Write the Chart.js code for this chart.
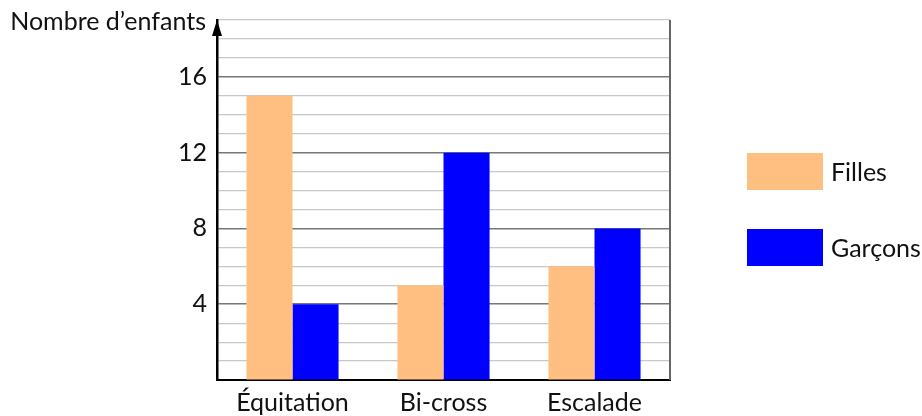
<!DOCTYPE html>
<html lang="fr">
<head>
  <meta charset="UTF-8" />
  <title>Nombre d'enfants par activité</title>
  <script src="https://cdn.jsdelivr.net/npm/chart.js"></script>
  <style>
    body { margin: 0; background: #fff; font-family: 'Lato', 'DejaVu Sans', sans-serif; }
    .wrap { position: relative; width: 922px; height: 416px; }
    canvas { position: absolute; left: 0; top: 0; }
    .legende { position: absolute; left: 747px; font-size: 25px; color: #111; }
    .legende span.box { position: absolute; left: 0; width: 76px; height: 37px; }
    .legende span.txt { position: absolute; left: 84px; top: 0; line-height: 37px; white-space: nowrap; }
  </style>
</head>
<body>
  <div class="wrap">
    <canvas id="graphique" width="922" height="416"></canvas>
    <div class="legende" style="top:153px"><span class="box" style="background:#ffbf80"></span><span class="txt">Filles</span></div>
    <div class="legende" style="top:229px"><span class="box" style="background:#0000ff"></span><span class="txt">Garçons</span></div>
  </div>

  <script>
    const activites = ["Équitation", "Bi-cross", "Escalade"];
    const filles = [15, 5, 6];
    const garcons = [4, 12, 8];
    const yTicks = [4, 8, 12, 16];
    const yMax = 19;

    const police = "Lato, 'DejaVu Sans', sans-serif";

    // titre de l'axe, fleche et bord droit
    const decor = {
      id: "decor",
      afterDraw(chart) {
        const { ctx, chartArea: a } = chart;
        ctx.save();
        ctx.strokeStyle = "#666";
        ctx.lineWidth = 2;
        ctx.beginPath();
        ctx.moveTo(a.right, a.top);
        ctx.lineTo(a.right, a.bottom);
        ctx.stroke();

        ctx.fillStyle = "#000";
        ctx.beginPath();
        ctx.moveTo(a.left, a.top);
        ctx.lineTo(a.left - 5, a.top + 16);
        ctx.lineTo(a.left + 5, a.top + 16);
        ctx.closePath();
        ctx.fill();

        ctx.font = "25px " + police;
        ctx.textAlign = "right";
        ctx.textBaseline = "middle";
        ctx.fillStyle = "#111";
        ctx.fillText("Nombre d\u2019enfants", a.left - 11, a.top + 2);
        ctx.restore();
      }
    };

    new Chart(document.getElementById("graphique"), {
      type: "bar",
      data: {
        labels: activites,
        datasets: [
          { label: "Filles", data: filles, backgroundColor: "#ffbf80" },
          { label: "Garçons", data: garcons, backgroundColor: "#0000ff" }
        ]
      },
      options: {
        responsive: false,
        animation: false,
        layout: { padding: { top: 20, right: 252, left: 0, bottom: 0 } },
        datasets: { bar: { categoryPercentage: 0.61, barPercentage: 1 } },
        plugins: { legend: { display: false }, tooltip: { enabled: false } },
        scales: {
          x: {
            grid: { display: false },
            border: { display: true, color: "#000", width: 2 },
            ticks: { color: "#111", font: { size: 25, family: police }, padding: 0 },
            afterFit(s) { s.height = 36; }
          },
          y: {
            min: 0,
            max: yMax,
            ticks: {
              stepSize: 1,
              autoSkip: false,
              maxTicksLimit: 40,
              color: "#111",
              padding: 10,
              font: { size: 25, family: police },
              callback: v => yTicks.includes(v) ? v : ""
            },
            grid: {
              drawTicks: false,
              color: c => (c.tick && yTicks.includes(c.tick.value)) ? "#777" : "#c8c8c8",
              lineWidth: c => (c.tick && yTicks.includes(c.tick.value)) ? 1.6 : 1.2
            },
            border: { display: true, color: "#000", width: 2.5 },
            afterFit(s) { s.width = 217; s.paddingTop = 0; s.paddingBottom = 0; }
          }
        }
      },
      plugins: [decor]
    });
  </script>
</body>
</html>
